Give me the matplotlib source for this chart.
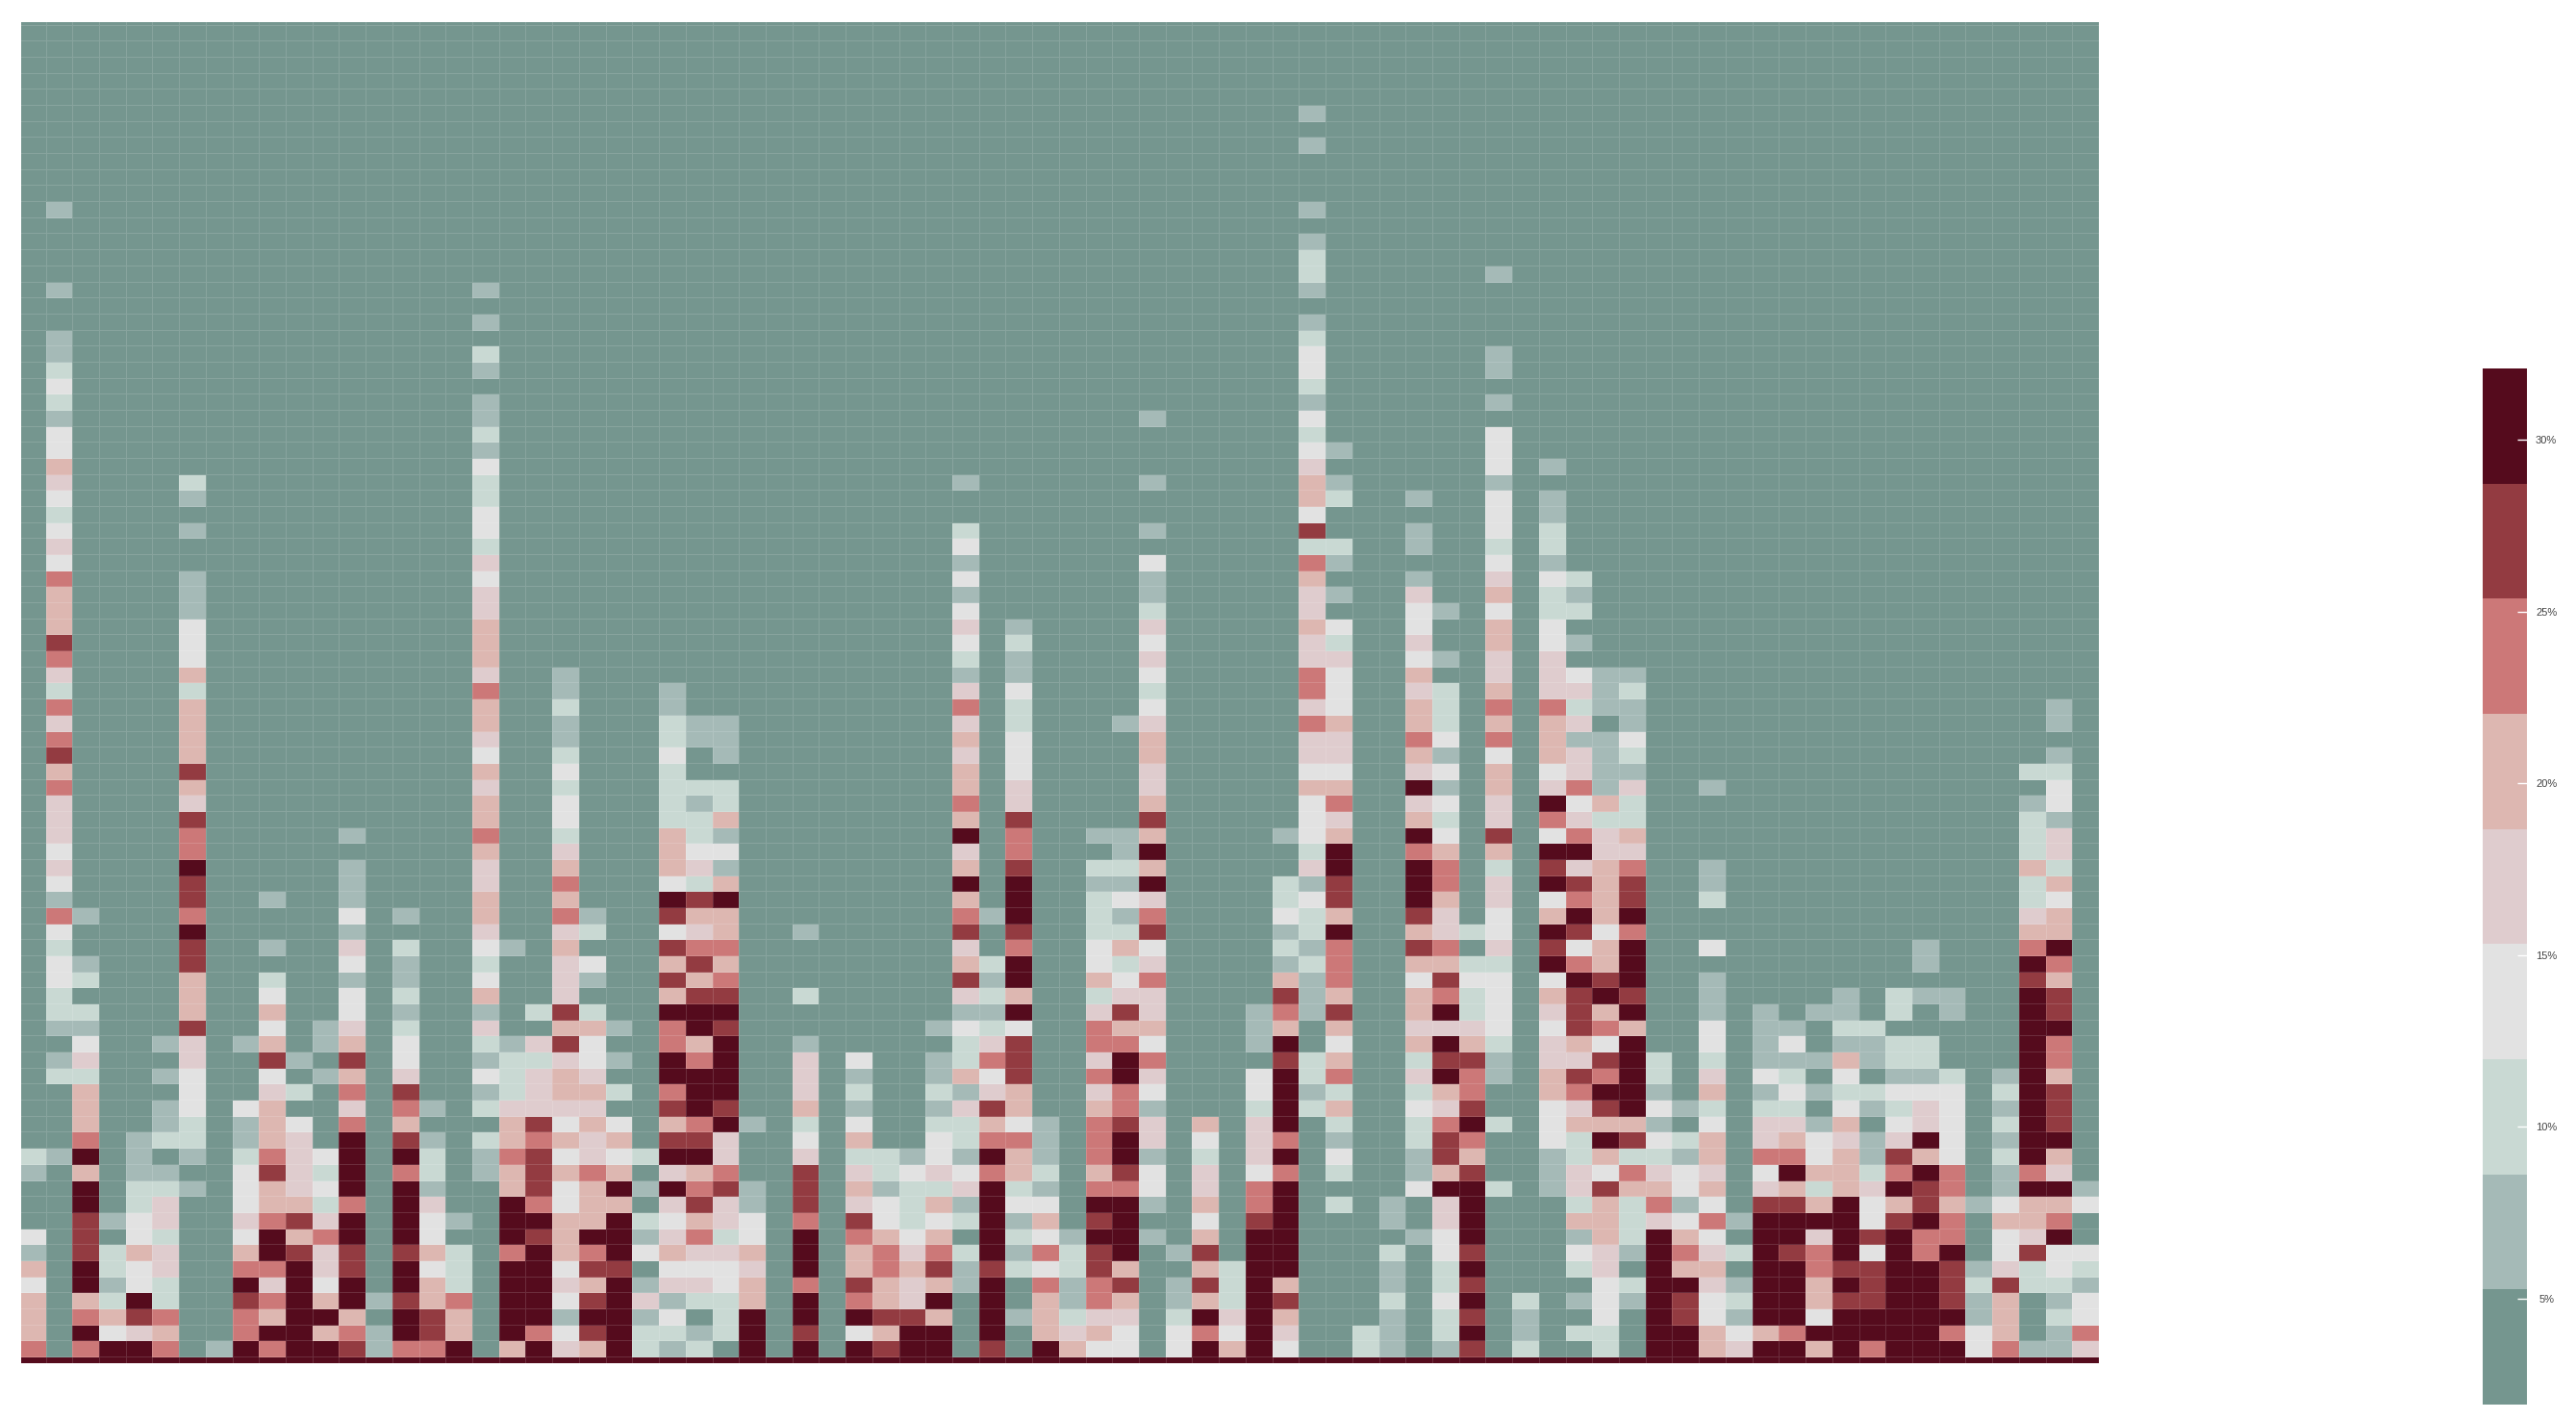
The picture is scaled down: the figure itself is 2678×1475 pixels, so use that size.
import numpy as np
import matplotlib
matplotlib.use('Agg')
import matplotlib.pyplot as plt
from matplotlib.colors import ListedColormap, BoundaryNorm

W, H = 2678, 1475

palette = ["#75968f", "#a5bab7", "#c9d9d3", "#e2e2e2", "#dfccce",
           "#ddb7b1", "#cc7878", "#933b41", "#550b1d"]
low, high = 1.92, 32.07
tick_values = [5, 10, 15, 20, 25, 30]

# colour band of each cell, bottom row first, one digit per column
lower_rows = [
    "60688601868871668058 4582120808087880708 53303858300210170200 2088548858688836114",
    "50834500688561875086 3782212807035880805 45303638400210280102 2088535688888635016",
    "50657600658850875088 1881302808087750815 24402848500010270100 3087318838888815023",
    "50528200768581756088 3784122508065480805 16501528700020380201 3187328857788715013",
    "30813200848380852088 4581443506075451806 16701728500010270000 3288418858788727221",
    "50823400668470832088 3770333408056571723 27500528800010280002 4085508867788714232",
    "10725400587470752068 5683544508056462816 27801708800020370003 4186428768386803733",
    "30703200385680830087 5881462308065350823 18810508800001380001 5285308848786603480",
    "00713400467480831088 5582354306073232815 07800307800010480005 5243618888378605560",
    "00802400355260840086 3550474107043251833 08810506802010480002 5261307758357513553",
    "00802210354380810057 3581867107051224821 06630406800003882014 7553504525487601881",
    "10501100374280620157 5650456007042343652 05730403602001570014 3643403855268601640",
    "21801010264380820167 3432884004022131851 06810204803001750012 5221506635175302850",
    "00601220154080710256 5450774003050032661 06840304601002760032 8732504534148301880",
    "00500120153060500057 3530568102030022531 06740504802002682035 5510304415034302870",
    "00500130350040610244 4400787005010014750 05610002825003470034 7831202203124301870",
    "00500030042060700124 5520688004020021450 04630003812002560056 8810501312233302870",
    "02200130030150400324 5400888004010015370 06840003826004861057 6820403203011201850",
    "01400040071070300122 4310868004030012670 04860000725002771044 7820201115122000860",
    "00300140150150300214 7300658001000002470 06630001803005852045 3800301301122000860",
    "01100070030140200400 5510687000000013230 06550001505004443037 6500301102200000880",
    "02200050050030100102 7200888000000001180 04740001617005823047 5800101011020100870",
    "02000050030030200500 4000577002000004250 02440000715005623057 8700100001021100870",
    "03200050020010100300 4100756000000007180 05360000516003733038 7800100000000000750",
    "03100070000030100200 4300575000000005280 03240000126005522086 5800000000001000860",
]

# columns that go higher: column -> bands from row 26 upwards
upper_cols = {
    1: "23613434446576462467555634" + "323453312321100100001",
    2: "001",
    6: "78677866745755552533311100" + "1012",
    9: "1001",
    12: "41311101",
    14: "201",
    17: "34554456554534556455544342" + "3322312110120101",
    18: "1",
    20: "546565423323211211",
    21: "021",
    24: "73783555222232211",
    25: "645724322120011",
    26: "655851315220111",
    29: "01",
    35: "47658548565545464123431313" + "2001",
    36: "001",
    37: "678887667443332231121",
    40: "32221201",
    41: "521312110000001",
    42: "3764858575445543234342113" + "010010001",
    47: "21322001",
    48: "12231423335344646644544562" + "735543231233210122101000101",
    49: "68577885465344533342301012" + "002101",
    52: "75788868548456554534334101" + "101",
    53: "6445665323131322201001",
    54: "02",
    55: "43344257445536565445535432" + "33313330101100001",
    57: "78538783684355564443322312" + "21101",
    58: "378674864364414243010212",
    59: "535555442511110111",
    60: "868776452241231121",
    63: "30021100001",
    71: "1",
    75: "654225222102",
    76: "8553524413321011",
}

n_cols = 78
n_rows = 84
edges = np.linspace(low, high, len(palette) + 1)
mids = (edges[:-1] + edges[1:]) / 2

bands = np.zeros((n_rows + 1, n_cols), dtype=int)
bands[0, :] = 8  # clipped strip along the bottom
for r, row in enumerate(lower_rows):
    bands[r + 1, :] = [int(c) for c in row.replace(" ", "")]
for col, s in upper_cols.items():
    for k, c in enumerate(s):
        bands[26 + k, col] = int(c)
values = mids[bands]

cmap = ListedColormap(palette)
norm = BoundaryNorm(edges, cmap.N)

fig = plt.figure(figsize=(W / 100, H / 100), dpi=100, facecolor='white')
plt.rcParams['font.family'] = ['Liberation Sans', 'DejaVu Sans']

ax = fig.add_axes([22 / W, (H - 1417) / H, (2182 - 22) / W, (1417 - 22.5) / H])
xe = np.arange(n_cols + 1)
ye = np.arange(-1, n_rows + 1)
mesh = ax.pcolormesh(xe, ye, values, cmap=cmap, norm=norm,
                     edgecolors=(1, 1, 1, 0.14), linewidth=0.7)
ax.set_xlim(0.08, n_cols)
ax.set_ylim(-0.42, 83.19)
ax.axis('off')

cax = fig.add_axes([2581 / W, (H - 1460) / H, 46 / W, (1460 - 383) / H])
cb = fig.colorbar(mesh, cax=cax, ticks=tick_values, spacing='proportional',
                  drawedges=False)
cb.outline.set_visible(False)
cb.minorticks_off()
cax.set_yticklabels([f"{t}%" for t in tick_values])
cax.tick_params(axis='y', which='major', direction='in', length=7.2, width=1,
                color='white', labelsize=8, labelcolor='#444444', pad=14.5)
cax.tick_params(axis='y', which='minor', length=0)
for lab in cax.get_yticklabels():
    lab.set_ha('center')

fig.savefig('out.png', dpi=100)
